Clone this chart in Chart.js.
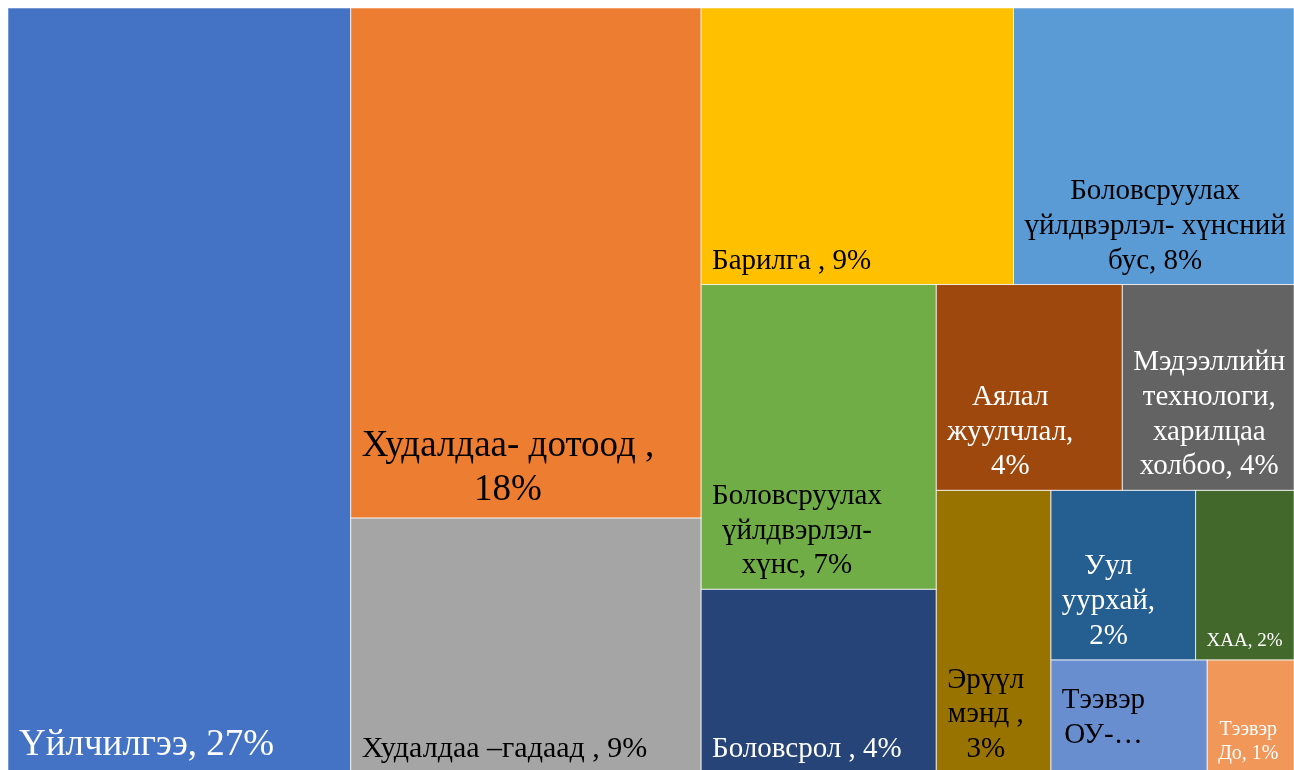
<!DOCTYPE html>
<html>
<head>
<meta charset="utf-8">
<title>Treemap</title>
<script src="https://cdn.jsdelivr.net/npm/chart.js@4.4.1/dist/chart.umd.min.js"></script>
<style>
    html, body { margin: 0; padding: 0; background: #fff; overflow: hidden; }
    #wrap { position: relative; width: 1294px; height: 773px; }
</style>
</head>
<body>
<div id="wrap"><canvas id="treeChart"></canvas></div>
<script>
// Sectors in layout order, share of total (%)
const sectors = [
    'Үйлчилгээ', 'Худалдаа- дотоод', 'Худалдаа –гадаад', 'Барилга',
    'Боловсруулах үйлдвэрлэл- хүнсний бус', 'Боловсруулах үйлдвэрлэл- хүнс',
    'Боловсрол', 'Аялал жуулчлал', 'Мэдээллийн технологи, харилцаа холбоо',
    'Эрүүл мэнд', 'Уул уурхай', 'ХАА', 'Тээвэр ОУ', 'Тээвэр До'
];
const shares = [26.7, 18.2, 9.1, 8.8, 7.9, 7.3, 4.4, 3.9, 3.6, 3.3, 2.5, 1.7, 1.8, 1.0];

// Label text as it is wrapped inside each cell
const labelLines = [
    ['Үйлчилгээ, 27%'],
    ['Худалдаа- дотоод ,', '18%'],
    ['Худалдаа –гадаад , 9%'],
    ['Барилга , 9%'],
    ['Боловсруулах', 'үйлдвэрлэл- хүнсний', 'бус, 8%'],
    ['Боловсруулах', 'үйлдвэрлэл-', 'хүнс, 7%'],
    ['Боловсрол , 4%'],
    ['Аялал', 'жуулчлал,', '4%'],
    ['Мэдээллийн', 'технологи,', 'харилцаа', 'холбоо, 4%'],
    ['Эрүүл', 'мэнд ,', '3%'],
    ['Уул', 'уурхай,', '2%'],
    ['ХАА, 2%'],
    ['Тээвэр', 'ОУ-…'],
    ['Тээвэр', 'До, 1%']
];

// Styles
const cellColors = [
    '#4472C4', '#ED7D31', '#A5A5A5', '#FFC000', '#5B9BD5', '#70AD47', '#264478',
    '#9E480E', '#636363', '#997300', '#255E91', '#43682B', '#698ED0', '#F1975A'
];
const textColors = [
    '#fff', '#000', '#000', '#000', '#000', '#000', '#fff',
    '#fff', '#fff', '#000', '#fff', '#fff', '#000', '#fff'
];
const fontSizes = [37, 37, 30, 29, 29, 29, 29, 29, 29, 29, 29, 19, 29, 20];
const FONT = "'Liberation Serif', 'Times New Roman', serif";

// How many cells go into each strip (Excel-like ordering of the treemap)
const stripSizes = [1, 2, 2, 2, 2, 1, 2, 2];

// Lay the cells out in a unit square; aspect = pixel width / pixel height
function layoutCells(values, aspect) {
    let x = 0, y = 0, w = 1, h = 1;
    let remaining = values.reduce((a, b) => a + b, 0);
    let i = 0;
    const rects = [];
    stripSizes.forEach((n, s) => {
        const group = values.slice(i, i + n);
        const sum = group.reduce((a, b) => a + b, 0);
        const wide = w * aspect >= h;
        if (s === stripSizes.length - 1) {
            // last strip fills what is left, cells side by side along the long side
            let pos = wide ? x : y;
            group.forEach(v => {
                const f = v / sum;
                if (wide) {
                    rects.push({ x0: pos, x1: pos + w * f, y0: y, y1: y + h });
                    pos += w * f;
                } else {
                    rects.push({ x0: x, x1: x + w, y0: pos, y1: pos + h * f });
                    pos += h * f;
                }
            });
        } else if (wide) {
            // column on the left, cells stacked top to bottom
            const cw = w * sum / remaining;
            let pos = y;
            group.forEach(v => {
                const ch = h * v / sum;
                rects.push({ x0: x, x1: x + cw, y0: pos, y1: pos + ch });
                pos += ch;
            });
            x += cw; w -= cw;
        } else {
            // row along the top, cells left to right
            const rh = h * sum / remaining;
            let pos = x;
            group.forEach(v => {
                const cw = w * v / sum;
                rects.push({ x0: pos, x1: pos + cw, y0: y, y1: y + rh });
                pos += cw;
            });
            y += rh; h -= rh;
        }
        remaining -= sum;
        i += n;
    });
    return rects;
}

const treemapPlugin = {
    id: 'treemapCells',
    beforeDatasetsDraw(chart, args, opts) {
        const { ctx, chartArea, scales: { x, y } } = chart;
        const rects = layoutCells(opts.values, chartArea.width / chartArea.height);
        const boxes = rects.map(r => ({
            left: x.getPixelForValue(r.x0),
            right: x.getPixelForValue(r.x1),
            top: y.getPixelForValue(r.y0),
            bottom: y.getPixelForValue(r.y1)
        }));

        ctx.save();
        // Cells
        boxes.forEach((b, i) => {
            ctx.fillStyle = opts.colors[i];
            ctx.fillRect(b.left, b.top, b.right - b.left, b.bottom - b.top);
        });
        ctx.strokeStyle = 'rgba(255, 255, 255, 0.55)';
        ctx.lineWidth = 1;
        boxes.forEach(b => {
            ctx.strokeRect(b.left, b.top, b.right - b.left, b.bottom - b.top);
        });

        // Labels: block anchored at the left, lines centred on the widest one
        ctx.textBaseline = 'alphabetic';
        ctx.textAlign = 'center';
        boxes.forEach((b, i) => {
            const lines = opts.lines[i];
            const fs = opts.fontSizes[i];
            const lh = fs * 1.2;
            ctx.font = fs + 'px ' + FONT;
            ctx.fillStyle = opts.textColors[i];
            const widest = Math.max(...lines.map(t => ctx.measureText(t).width));
            const cx = b.left + 11 + widest / 2;
            let lastBase;
            if (opts.middle.includes(i)) {
                const cy = (b.top + b.bottom) / 2;
                lastBase = cy + lines.length * lh / 2 - 0.3 * fs;
            } else {
                lastBase = b.bottom - 9.5 - 0.22 * fs;
            }
            lines.forEach((t, k) => {
                ctx.fillText(t, cx, lastBase - (lines.length - 1 - k) * lh);
            });
        });
        ctx.restore();
    }
};

const chart = new Chart(document.getElementById('treeChart'), {
    type: 'scatter',
    data: {
        labels: sectors,
        datasets: [{ label: 'Салбар', data: [] }]
    },
    options: {
        responsive: true,
        maintainAspectRatio: false,
        animation: false,
        layout: { padding: { left: 8, top: 8, right: 0, bottom: 0 } },
        scales: {
            x: { type: 'linear', min: 0, max: 1, display: false },
            y: { type: 'linear', min: 0, max: 1, reverse: true, display: false }
        },
        plugins: {
            legend: { display: false },
            tooltip: { enabled: false },
            treemapCells: {
                values: shares,
                colors: cellColors,
                textColors: textColors,
                fontSizes: fontSizes,
                lines: labelLines,
                middle: [12]
            }
        }
    },
    plugins: [treemapPlugin]
});
</script>
</body>
</html>
